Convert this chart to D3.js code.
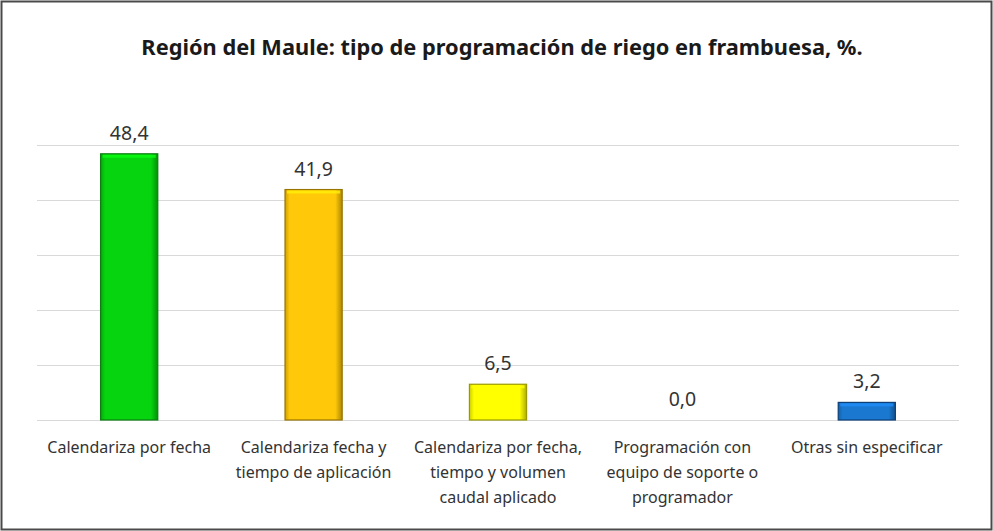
<!DOCTYPE html>
<html>
<head>
<meta charset="utf-8">
<script src="https://cdn.jsdelivr.net/npm/d3@7"></script>
<style>
    body { margin: 0; background: #fff; }
    svg { display: block; font-family: "Noto Sans", "Open Sans", sans-serif; }
</style>
</head>
<body>
<svg id="chart"></svg>
<script>
// datos
const categorias = [
    ["Calendariza por fecha"],
    ["Calendariza fecha y", "tiempo de aplicación"],
    ["Calendariza por fecha,", "tiempo y volumen", "caudal aplicado"],
    ["Programación con", "equipo de soporte o", "programador"],
    ["Otras sin especificar"]
];
const valores = [48.4, 41.9, 6.5, 0.0, 3.2];
const colores = ["#06d40e", "#ffc808", "#ffff00", "#8a8a8a", "#1a78d0"];
const bordes = ["#0b7d10", "#9a7400", "#9a9a00", "#555555", "#0d3f78"];
const yTicks = [0, 10, 20, 30, 40, 50];

const width = 993, height = 531;
const margin = {top: 145, right: 34, bottom: 111, left: 37};

const svg = d3.select("#chart")
    .attr("width", width)
    .attr("height", height);

// marco exterior
svg.append("rect")
    .attr("x", 1.5).attr("y", 1.5)
    .attr("width", width - 3).attr("height", height - 3)
    .attr("fill", "#fff")
    .attr("stroke", "#4a4a4a")
    .attr("stroke-width", 2);

// titulo
svg.append("text")
    .attr("x", 502)
    .attr("y", 55)
    .attr("text-anchor", "middle")
    .attr("font-size", 21.8)
    .attr("font-weight", "bold")
    .attr("fill", "#1a1a1a")
    .text("Región del Maule: tipo de programación de riego en frambuesa, %.");

//scales
const xScale = d3.scaleBand()
    .domain(d3.range(valores.length))
    .range([margin.left, width - margin.right])
    .paddingInner(0.69)
    .paddingOuter(0.345);
const yScale = d3.scaleLinear()
    .domain([0, 50])
    .range([height - margin.bottom, margin.top]);

// lineas de grilla
svg.append("g")
    .selectAll("line")
    .data(yTicks)
    .enter()
    .append("line")
        .attr("x1", margin.left)
        .attr("x2", width - margin.right)
        .attr("y1", d => Math.round(yScale(d)) + 0.5)
        .attr("y2", d => Math.round(yScale(d)) + 0.5)
        .attr("stroke", "#d9d9d9")
        .attr("stroke-width", 1.2);

// gradientes para el efecto bisel
const defs = svg.append("defs");
colores.forEach((col, i) => {
    const g = defs.append("linearGradient")
        .attr("id", "grad-" + i)
        .attr("x1", "0").attr("x2", "1").attr("y1", "0").attr("y2", "0");
    const c = d3.color(col);
    g.append("stop").attr("offset", "0%").attr("stop-color", c.darker(0.6));
    g.append("stop").attr("offset", "8%").attr("stop-color", c);
    g.append("stop").attr("offset", "88%").attr("stop-color", c);
    g.append("stop").attr("offset", "100%").attr("stop-color", c.darker(1.1));
});

const datos = valores.map((v, i) => ({i: i, v: v}));

const barras = svg.append("g")
    .selectAll("g")
    .data(datos.filter(d => d.v > 0))
    .enter()
    .append("g");

barras.append("rect")
    .attr("x", d => xScale(d.i))
    .attr("y", d => yScale(d.v))
    .attr("width", xScale.bandwidth())
    .attr("height", d => yScale(0) - yScale(d.v))
    .attr("fill", d => "url(#grad-" + d.i + ")")
    .attr("stroke", d => bordes[d.i])
    .attr("stroke-width", 1.2);

// brillo superior
barras.append("rect")
    .attr("x", d => xScale(d.i) + 2)
    .attr("y", d => yScale(d.v) + 1)
    .attr("width", xScale.bandwidth() - 4)
    .attr("height", 3)
    .attr("fill", d => d3.color(colores[d.i]).brighter(0.5))
    .attr("opacity", 0.8);

// etiquetas de valores
svg.append("g")
    .selectAll("text")
    .data(datos)
    .enter()
    .append("text")
        .attr("x", d => xScale(d.i) + xScale.bandwidth() / 2)
        .attr("y", d => yScale(d.v) - 14)
        .attr("text-anchor", "middle")
        .attr("font-size", 19.5)
        .attr("fill", "#333")
        .text(d => d3.format(".1f")(d.v).replace(".", ","));

// etiquetas de categorias
const cat = svg.append("g")
    .selectAll("text")
    .data(categorias)
    .enter()
    .append("text")
        .attr("x", (d, i) => xScale(i) + xScale.bandwidth() / 2)
        .attr("y", 453)
        .attr("text-anchor", "middle")
        .attr("font-size", 16)
        .attr("fill", "#333");

cat.selectAll("tspan")
    .data(d => d)
    .enter()
    .append("tspan")
        .attr("x", function() { return d3.select(this.parentNode).attr("x"); })
        .attr("dy", (d, i) => i === 0 ? 0 : 25)
        .text(d => d);
</script>
</body>
</html>
